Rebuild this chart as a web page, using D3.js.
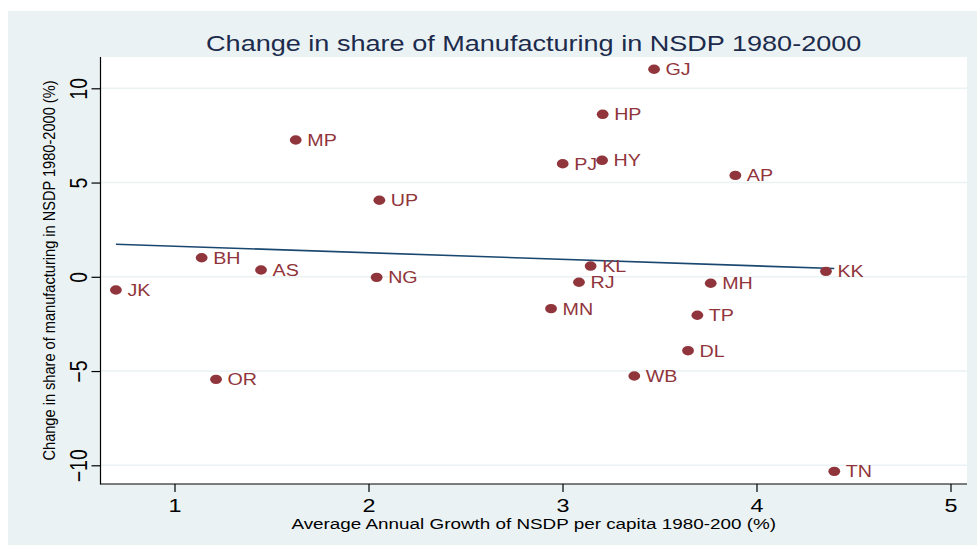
<!DOCTYPE html>
<html>
<head>
<meta charset="utf-8">
<script src="https://cdn.jsdelivr.net/npm/d3@7"></script>
<style>
html,body{margin:0;padding:0;background:#fff;}
svg{display:block;}
text{font-family:"Liberation Sans",Arial,sans-serif;}
</style>
</head>
<body>
<svg id="chart" width="977" height="545"></svg>
<script>
const states = ["JK","BH","AS","OR","MP","UP","NG","MN","PJ","RJ","KL","HP","HY","GJ","WB","DL","TP","MH","AP","KK","TN"];
const growth = [0.698,1.140,1.446,1.214,1.625,2.056,2.042,2.941,3.001,3.085,3.145,3.207,3.204,3.472,3.370,3.647,3.695,3.764,3.891,4.358,4.401];
const mfgChange = [-0.70,1.01,0.36,-5.44,7.26,4.06,-0.03,-1.69,6.00,-0.29,0.57,8.62,6.18,11.01,-5.26,-3.92,-2.04,-0.34,5.38,0.29,-10.32];
const xTicks = [1,2,3,4,5];
const yTicks = [-10,-5,0,5,10];
const title = "Change in share of Manufacturing in NSDP 1980-2000";
const xTitle = "Average Annual Growth of NSDP per capita 1980-200 (%)";
const yTitle = "Change in share of manufacturing in NSDP 1980-2000 (%)";

const SX = 1.23; // horizontal stretch of the original picture
const svg = d3.select("#chart");
const plot = {left:100.5, right:967, top:57, bottom:484};

const x = d3.scaleLinear().domain([1,5]).range([174.5,950.5]);
const y = d3.scaleLinear().domain([-10,10]).range([465.3,88.3]);

// backgrounds
svg.append("rect").attr("x",8).attr("y",11).attr("width",969).attr("height",534).attr("fill","#EAF2F3");
svg.append("rect").attr("x",plot.left).attr("y",plot.top).attr("width",plot.right-plot.left).attr("height",plot.bottom-plot.top).attr("fill","#fff");

// gridlines
svg.append("g").selectAll("line").data(yTicks).join("line")
  .attr("x1",plot.left).attr("x2",plot.right)
  .attr("y1",d=>y(d)).attr("y2",d=>y(d))
  .attr("stroke","#EAF2F3").attr("stroke-width",1.5);

// axes lines
svg.append("line").attr("x1",plot.left).attr("x2",plot.left).attr("y1",plot.top).attr("y2",plot.bottom+0.5).attr("stroke","#000").attr("stroke-width",1.2);
svg.append("line").attr("x1",plot.left).attr("x2",plot.right).attr("y1",plot.bottom).attr("y2",plot.bottom).attr("stroke","#000").attr("stroke-width",1.2);

// x axis ticks via d3 axis
const xAxis = svg.append("g").attr("transform",`translate(0,${plot.bottom})`)
  .call(d3.axisBottom(x).tickValues(xTicks).tickSize(8).tickFormat(d3.format("d")));
xAxis.select(".domain").remove();
xAxis.selectAll(".tick line").attr("stroke","#000").attr("stroke-width",1.2);
xAxis.selectAll(".tick text").attr("y",0).attr("dy",null)
  .attr("transform",`translate(0,28) scale(${SX},1)`)
  .attr("font-size",19).attr("fill","#000").attr("font-family","Liberation Sans, Arial, sans-serif");

// y axis
const yAxis = svg.append("g").attr("transform",`translate(${plot.left},0)`)
  .call(d3.axisLeft(y).tickValues(yTicks).tickSize(9).tickFormat(d3.format("d")));
yAxis.select(".domain").remove();
yAxis.selectAll(".tick line").attr("stroke","#000").attr("stroke-width",1.2);
yAxis.selectAll(".tick text").attr("x",0).attr("dy",null).attr("y",0)
  .attr("text-anchor","middle")
  .attr("transform",`translate(-14,0) scale(${SX},1) rotate(-90)`)
  .attr("font-size",19.5).attr("fill","#000").attr("font-family","Liberation Sans, Arial, sans-serif");

// fit line (least squares on the data, drawn over the data range)
const n = growth.length;
const mx = d3.mean(growth), my = d3.mean(mfgChange);
let sxy=0, sxx=0;
for(let i=0;i<n;i++){ sxy += (growth[i]-mx)*(mfgChange[i]-my); sxx += (growth[i]-mx)**2; }
const b = sxy/sxx, a = my - b*mx;
const xr = d3.extent(growth);
svg.append("path")
  .datum(xr.map(v=>[v, a+b*v]))
  .attr("d", d3.line().x(d=>x(d[0])).y(d=>y(d[1])))
  .attr("stroke","#1A476F").attr("stroke-width",1.6).attr("fill","none");

// points
const pts = states.map((s,i)=>({s, gx:growth[i], gy:mfgChange[i]}));
svg.append("g").selectAll("ellipse").data(pts).join("ellipse")
  .attr("cx",d=>x(d.gx)).attr("cy",d=>y(d.gy))
  .attr("rx",5.9).attr("ry",4.7).attr("fill","#90353B");
svg.append("g").selectAll("text").data(pts).join("text")
  .attr("transform",d=>`translate(${x(d.gx)+11.5},${y(d.gy)+6}) scale(${SX},1)`)
  .attr("font-size",16).attr("fill","#90353B").text(d=>d.s);

// titles
svg.append("text").attr("transform",`translate(533.7,51) scale(${SX},1)`)
  .attr("text-anchor","middle").attr("font-size",22).attr("fill","#1C2B4C").text(title);
svg.append("text").attr("transform",`translate(533.7,529) scale(${SX*0.99},1)`)
  .attr("text-anchor","middle").attr("font-size",15.5).attr("fill","#000").text(xTitle);
svg.append("text").attr("transform",`translate(55,270.5) scale(${SX},1) rotate(-90)`)
  .attr("text-anchor","middle").attr("font-size",13).attr("fill","#000")
  .attr("textLength",380).attr("lengthAdjust","spacingAndGlyphs").text(yTitle);
</script>
</body>
</html>
